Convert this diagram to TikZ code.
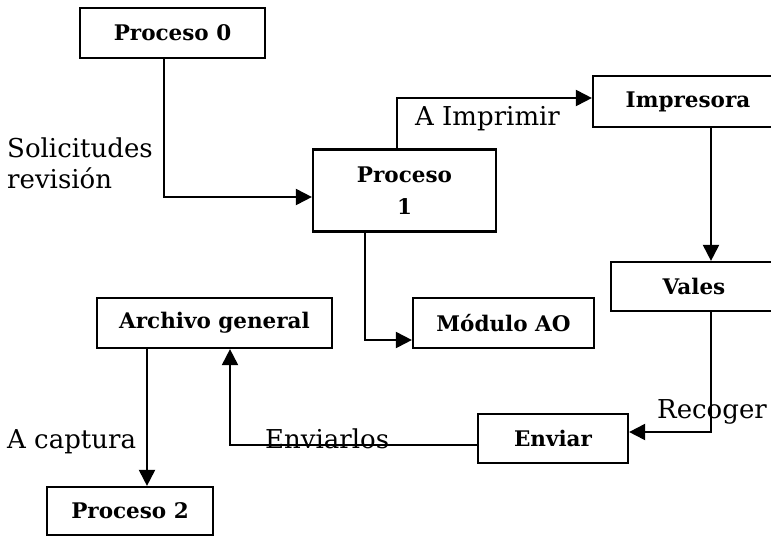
\documentclass[tikz,border=0pt]{standalone}
\usepackage{fontspec}
\setmainfont{DejaVu Serif}
\usetikzlibrary{arrows.meta}
\begin{document}
\begin{tikzpicture}[x=1pt,y=-1pt,
  box/.style={draw, line width=2.2pt, inner sep=0pt, align=center,
    font=\bfseries\fontsize{21.5}{32}\selectfont},
  flow/.style={line width=2pt, -{Triangle[length=16pt,width=16pt]}},
  lbl/.style={inner sep=0pt, anchor=base west, align=left,
    font=\fontsize{26}{31}\selectfont}]
\fill[white] (0,0) rectangle (771,536);
\clip (0,0) rectangle (771,536);

% process boxes
\node[box, minimum width=185pt, minimum height=50pt] (p0)  at (172.5,33)  {Proceso 0};
\node[box, minimum width=183pt, minimum height=82pt] (p1)  at (404.5,190.5) {Proceso\\1};
\node[box, minimum width=190pt, minimum height=51pt] (imp) at (688,101.5) {Impresora};
\node[box, minimum width=166pt, minimum height=49pt] (vales) at (694,286.5) {Vales};
\node[box, minimum width=235pt, minimum height=50pt] (arch) at (214.5,323) {Archivo general};
\node[box, minimum width=181pt, minimum height=50pt] (mod) at (503.5,323) {Módulo AO};
\node[box, minimum width=150pt, minimum height=49pt] (env) at (553,438.5) {Enviar};
\node[box, minimum width=166pt, minimum height=48pt] (p2)  at (130,511) {Proceso 2};

% flows between boxes
\draw[flow] ([xshift=-8.5pt]p0.south) |- ([yshift=-6.5pt]p1.west);
\draw[flow] ([xshift=-7.5pt]p1.north) |- ([yshift=3.5pt]imp.west);
\draw[flow] ([xshift=23pt]imp.south) -- ([xshift=17pt]vales.north);
\draw[flow] ([xshift=17pt]vales.south) |- ([yshift=6.5pt]env.east);
\draw[flow] ([xshift=-39.5pt]p1.south) |- ([yshift=-17pt]mod.west);
\draw[flow] ([yshift=-6.5pt]env.west) -| ([xshift=15.5pt]arch.south);
\draw[flow] ([xshift=-67.5pt]arch.south) -- ([xshift=17pt]p2.north);

% flow labels
\node[lbl] (lsol) at (7,188) {Solicitudes\\revisión};
\node[lbl] (limp) at (415,125) {A Imprimir};
\node[lbl] (lrec) at (657,418) {Recoger};
\node[lbl] (lcap) at (7,448) {A captura};
\node[lbl] (lenv) at (265,448) {Enviarlos};
\end{tikzpicture}
\end{document}
